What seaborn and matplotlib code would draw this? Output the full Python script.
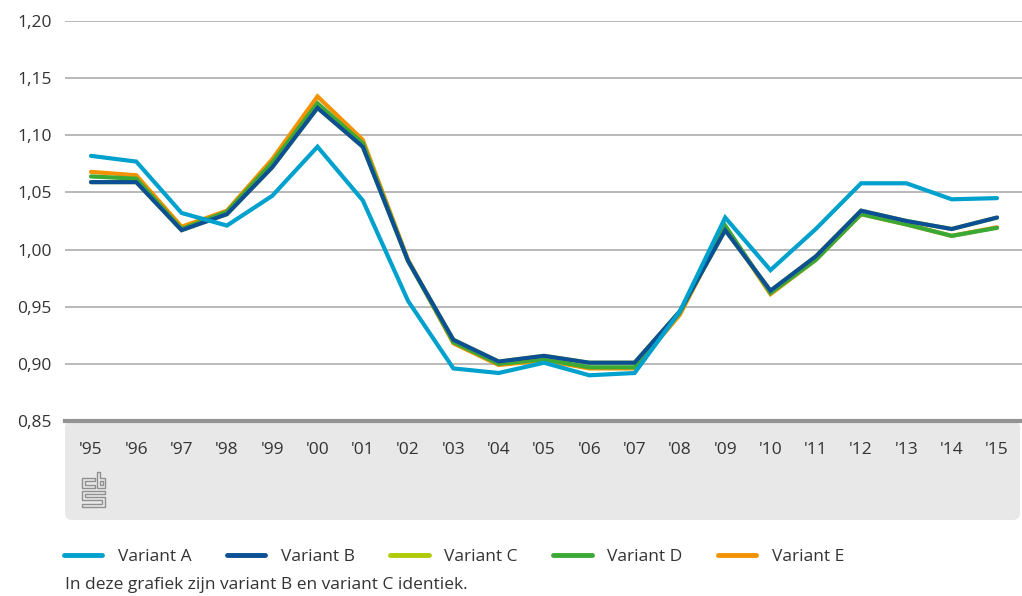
import pandas as pd
import matplotlib.pyplot as plt
import seaborn as sns
from matplotlib.lines import Line2D
from matplotlib.patches import FancyBboxPatch, Polygon
from matplotlib.transforms import IdentityTransform

# data
years = list(range(1995, 2016))
year_labels = ["'95", "'96", "'97", "'98", "'99", "'00", "'01", "'02", "'03", "'04", "'05",
               "'06", "'07", "'08", "'09", "'10", "'11", "'12", "'13", "'14", "'15"]

variant_a = [1.082, 1.077, 1.032, 1.021, 1.047, 1.090, 1.043, 0.955, 0.896, 0.892, 0.901,
             0.890, 0.892, 0.946, 1.028, 0.982, 1.018, 1.058, 1.058, 1.044, 1.045]
variant_b = [1.059, 1.059, 1.017, 1.031, 1.072, 1.124, 1.090, 0.990, 0.921, 0.902, 0.907,
             0.901, 0.901, 0.946, 1.017, 0.964, 0.994, 1.034, 1.025, 1.018, 1.028]
variant_c = list(variant_b)  # identiek aan variant B
variant_d = [1.064, 1.062, 1.018, 1.033, 1.076, 1.128, 1.093, 0.990, 0.919, 0.900, 0.904,
             0.897, 0.897, 0.945, 1.021, 0.962, 0.991, 1.031, 1.022, 1.012, 1.019]
variant_e = [1.068, 1.065, 1.020, 1.034, 1.079, 1.134, 1.096, 0.991, 0.918, 0.899, 0.903,
             0.896, 0.896, 0.943, 1.020, 0.961, 0.991, 1.031, 1.022, 1.012, 1.0195]

names = ['Variant A', 'Variant B', 'Variant C', 'Variant D', 'Variant E']
colors = ['#00a1cd', '#0b4f94', '#afcb05', '#3aa935', '#f39200']

df = pd.DataFrame({'jaar': years * 5,
                   'waarde': variant_a + variant_b + variant_c + variant_d + variant_e,
                   'variant': sum([[n] * len(years) for n in names], [])})

sns.set_style('white')
plt.rcParams['font.family'] = ['Open Sans', 'DejaVu Sans']

W, H = 1022, 596
fs = 12.5
tc = '#333333'
fig = plt.figure(figsize=(W / 100, H / 100), dpi=100)
ax = fig.add_axes([65 / W, (H - 421) / H, (W - 65) / W, 400 / H])

# grijze band onder de grafiek
band = FancyBboxPatch((65, H - 520), W - 65 - 2, 99, boxstyle='round,pad=0,rounding_size=7',
                      transform=IdentityTransform(), facecolor='#e8e8e8', edgecolor='none', zorder=-1)
fig.patches.append(band)

sns.lineplot(data=df, x='jaar', y='waarde', hue='variant', hue_order=names,
             palette=dict(zip(names, colors)), linewidth=3, legend=False, ax=ax)

# tekenvolgorde: E onder, A boven
for i, ln in enumerate(ax.lines):
    ln.set_zorder(10 - i if i > 0 else 11)
    ln.set_solid_joinstyle('miter')

ax.set_xlim(1995 - 26 / 45.3, 2015 + 25 / 45.3)
ax.set_ylim(0.85, 1.20)
ax.set_yticks([0.85, 0.90, 0.95, 1.00, 1.05, 1.10, 1.15, 1.20])
ax.set_yticklabels([f'{v:.2f}'.replace('.', ',') for v in ax.get_yticks()])
ax.set_xticks(years)
ax.set_xticklabels(year_labels)
ax.yaxis.grid(True, color='#b3b3b3', linewidth=1.3)
ax.set_axisbelow(True)
for s in ['top', 'right', 'left']:
    ax.spines[s].set_visible(False)
ax.spines['bottom'].set_color('#939393')
ax.spines['bottom'].set_linewidth(3)
ax.tick_params(axis='y', length=0, pad=9.5, labelsize=fs, labelcolor=tc)
ax.tick_params(axis='x', length=10, width=1, color='#999999', pad=5, labelsize=fs, labelcolor=tc)
ax.set_xlabel('')
ax.set_ylabel('')
ax.patch.set_alpha(0)

# cbs-logo (vereenvoudigd)
lc = '#8f8f8f'
def logo(pts):
    fig.patches.append(Polygon([(x, H - y) for x, y in pts], closed=True, fill=False,
                               edgecolor=lc, lw=1, transform=IdentityTransform()))
logo([(95, 478), (82, 478), (82, 488), (95, 488), (95, 485), (85, 485), (85, 481), (95, 481)])
logo([(97, 472), (100, 472), (100, 478), (105, 478), (105, 488), (97, 488)])
logo([(100, 481), (102.5, 481), (102.5, 485), (100, 485)])
logo([(105, 490.5), (82, 490.5), (82, 500), (102, 500), (102, 503.5), (82, 503.5), (82, 507),
      (105, 507), (105, 496.5), (85, 496.5), (85, 493.5), (105, 493.5)])

# legenda
handles = [Line2D([], [], color=c, lw=3.5) for c in colors]
fig.legend(handles, names, loc='center left', bbox_to_anchor=(64 / W, (H - 557) / H), ncol=5,
           frameon=False, handlelength=2.2, handletextpad=0.9, columnspacing=2.05, fontsize=fs,
           labelcolor=tc, borderaxespad=0, borderpad=0)
fig.text(65 / W, (H - 585) / H, 'In deze grafiek zijn variant B en variant C identiek.',
         fontsize=fs, color=tc, va='center', ha='left')

fig.savefig('out.png', dpi=100)
